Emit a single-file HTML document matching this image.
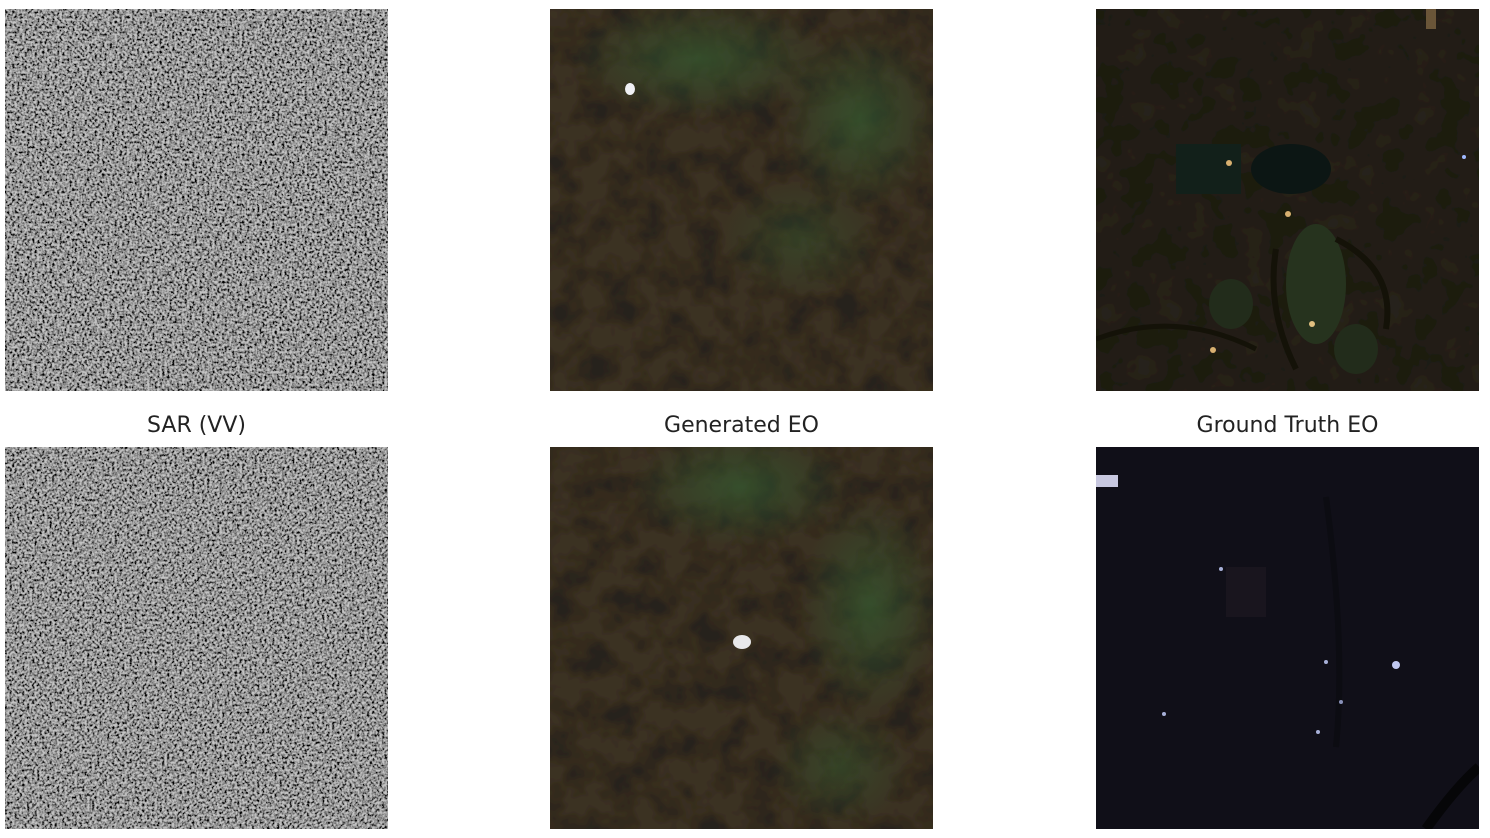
<!DOCTYPE html>
<html><head><meta charset="utf-8">
<style>
html,body{margin:0;padding:0;background:#fff;width:1490px;height:838px;overflow:hidden}
.p{position:absolute;width:383px;height:382px}
.t{position:absolute;font-family:"DejaVu Sans","Liberation Sans",sans-serif;font-size:22px;color:#222;text-align:center;width:383px}
</style></head>
<body>
<svg width="0" height="0" style="position:absolute">
<defs>
<filter id="sar" x="0" y="0" width="100%" height="100%">
<feTurbulence type="fractalNoise" baseFrequency="0.4" numOctaves="2" seed="3"/>
<feColorMatrix type="matrix" values="0 0 0 0 0  0 0 0 0 0  0 0 0 0 0  1 0 0 0 0"/>
<feComponentTransfer><feFuncA type="linear" slope="2.6" intercept="-0.85"/></feComponentTransfer>
<feComposite in2="SourceGraphic" operator="over"/>
</filter>
<filter id="sar2" x="0" y="0" width="100%" height="100%">
<feTurbulence type="fractalNoise" baseFrequency="0.4" numOctaves="2" seed="9"/>
<feColorMatrix type="matrix" values="0 0 0 0 0  0 0 0 0 0  0 0 0 0 0  1 0 0 0 0"/>
<feComponentTransfer><feFuncA type="linear" slope="2.6" intercept="-0.85"/></feComponentTransfer>
<feComposite in2="SourceGraphic" operator="over"/>
</filter>
<filter id="blob" x="0" y="0" width="100%" height="100%">
<feTurbulence type="fractalNoise" baseFrequency="0.035" numOctaves="3" seed="5"/>
<feColorMatrix type="matrix" values="0 0 0 0 0.02  0 0 0 0 0.015  0 0 0 0 0.01  0 0 0 2.4 -0.9"/>
<feComposite in2="SourceGraphic" operator="over"/>
</filter>
<filter id="blob2" x="0" y="0" width="100%" height="100%">
<feTurbulence type="fractalNoise" baseFrequency="0.035" numOctaves="3" seed="12"/>
<feColorMatrix type="matrix" values="0 0 0 0 0.02  0 0 0 0 0.015  0 0 0 0 0.01  0 0 0 2.4 -0.9"/>
<feComposite in2="SourceGraphic" operator="over"/>
</filter>
<radialGradient id="gr"><stop offset="0" stop-color="#345a30" stop-opacity="0.7"/><stop offset="1" stop-color="#345a30" stop-opacity="0"/></radialGradient>
</defs>
</svg>

<svg class="p" style="left:5px;top:9px">
<rect width="383" height="382" fill="#c4c4c4" filter="url(#sar)"/>
</svg>
<svg class="p" style="left:5px;top:447px">
<rect width="383" height="382" fill="#c4c4c4" filter="url(#sar2)"/>
</svg>

<svg class="p" style="left:550px;top:9px">
<rect width="383" height="382" fill="#3a3020" filter="url(#blob)"/>
<ellipse cx="150" cy="50" rx="130" ry="60" fill="url(#gr)"/>
<ellipse cx="310" cy="110" rx="80" ry="90" fill="url(#gr)"/>
<ellipse cx="250" cy="230" rx="80" ry="60" fill="url(#gr)" opacity="0.6"/>
<ellipse cx="80" cy="80" rx="5" ry="6" fill="#f0f0f5"/>
</svg>
<svg class="p" style="left:550px;top:447px">
<rect width="383" height="382" fill="#3a3020" filter="url(#blob2)"/>
<ellipse cx="190" cy="40" rx="110" ry="60" fill="url(#gr)"/>
<ellipse cx="320" cy="160" rx="70" ry="110" fill="url(#gr)"/>
<ellipse cx="290" cy="320" rx="70" ry="60" fill="url(#gr)" opacity="0.7"/>
<ellipse cx="192" cy="195" rx="9" ry="7" fill="#e8e8ea"/>
</svg>

<svg class="p" style="left:1096px;top:9px">
<rect width="383" height="382" fill="#1e1a11" filter="url(#blob)"/>
<rect x="80" y="135" width="65" height="50" fill="#12201a"/>
<ellipse cx="195" cy="160" rx="40" ry="25" fill="#0c1614"/>
<ellipse cx="220" cy="275" rx="30" ry="60" fill="#26331e"/>
<ellipse cx="135" cy="295" rx="22" ry="25" fill="#222c1b"/>
<ellipse cx="260" cy="340" rx="22" ry="25" fill="#222c1b"/>
<path d="M180 240 Q170 300 200 360 M240 230 Q300 260 290 320" stroke="#141208" stroke-width="6" fill="none"/>
<path d="M0 330 Q80 300 160 340" stroke="#141208" stroke-width="5" fill="none"/>
<circle cx="133" cy="154" r="3" fill="#d8b070"/><circle cx="192" cy="205" r="3" fill="#d8b070"/>
<circle cx="216" cy="315" r="3" fill="#e0c080"/><circle cx="117" cy="341" r="3" fill="#d8b070"/>
<circle cx="368" cy="148" r="2" fill="#a0b8ff"/>
<rect x="330" y="0" width="10" height="20" fill="#6a5538"/>
</svg>
<svg class="p" style="left:1096px;top:447px">
<rect width="383" height="382" fill="#100f18"/>
<rect x="130" y="120" width="40" height="50" fill="#1c1720" opacity="0.8"/>
<path d="M230 50 Q250 200 240 300" stroke="#0c0c12" stroke-width="6" fill="none"/>
<path d="M330 382 Q360 340 383 320" stroke="#060608" stroke-width="10" fill="none"/>
<rect x="0" y="28" width="22" height="12" fill="#c8c8e0"/>
<circle cx="300" cy="218" r="4" fill="#c0c8f0"/><circle cx="230" cy="215" r="2" fill="#a8b0d8"/>
<circle cx="68" cy="267" r="2" fill="#a8b0d8"/><circle cx="125" cy="122" r="2" fill="#a8b0d8"/>
<circle cx="222" cy="285" r="2" fill="#a8b0d8"/><circle cx="245" cy="255" r="2" fill="#8890b8"/>
</svg>

<div class="t" style="left:5px;top:413px">SAR (VV)</div>
<div class="t" style="left:550px;top:413px">Generated EO</div>
<div class="t" style="left:1096px;top:413px">Ground Truth EO</div>
</body></html>
